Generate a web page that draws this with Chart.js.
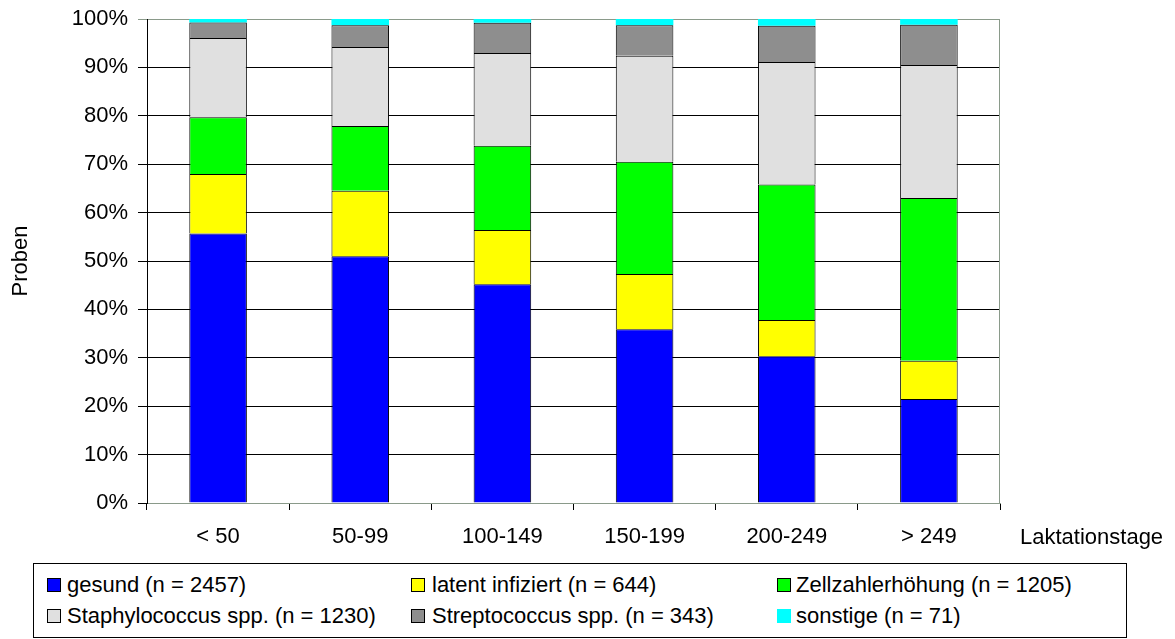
<!DOCTYPE html>
<html lang="de">
<head>
<meta charset="utf-8">
<title>Proben nach Laktationstagen</title>
<script src="https://cdn.jsdelivr.net/npm/chart.js@4/dist/chart.umd.min.js"></script>
<style>
  html, body { margin: 0; padding: 0; background: #fff; }
  body { width: 1175px; height: 639px; position: relative; overflow: hidden;
         font-family: "Liberation Sans", Arial, sans-serif; color: #000; }
  #wrap { position: absolute; left: 0; top: 0; width: 1175px; height: 639px; }
  #legendBox { position: absolute; left: 33px; top: 563px; width: 1094px; height: 75px;
               border: 1px solid #000; box-sizing: border-box; background: #fff; }
  .lg-sw { position: absolute; width: 14px; height: 14px; box-sizing: border-box; }
  .lg-tx { position: absolute; font-size: 22px; line-height: 26px; white-space: nowrap; }
</style>
</head>
<body>
<div id="wrap"><canvas id="chart"></canvas></div>
<div id="legendBox"></div>
<div id="legendItems"></div>
<script>
// Lactation-day classes on the x axis
const categories = ['< 50', '50-99', '100-149', '150-199', '200-249', '> 249'];

// Share of samples per class, in percent (stacked bottom to top)
const gesund = [55.7, 51.0, 45.2, 35.9, 30.3, 21.5];
const latentInfiziert = [12.3, 13.5, 11.2, 11.4, 7.5, 7.9];
const zellzahlerhoehung = [11.7, 13.4, 17.4, 23.2, 28.0, 33.6];
const staphylococcus = [16.4, 16.3, 19.2, 21.9, 25.3, 27.5];
const streptococcus = [3.2, 4.5, 6.2, 6.3, 7.5, 8.3];
const sonstige = [0.7, 1.3, 0.8, 1.3, 1.4, 1.2];

// Legend texts
const seriesLabels = [
  'gesund (n = 2457)',
  'latent infiziert (n = 644)',
  'Zellzahlerhöhung (n = 1205)',
  'Staphylococcus spp. (n = 1230)',
  'Streptococcus spp. (n = 343)',
  'sonstige (n = 71)'
];

const yTicks = [0, 10, 20, 30, 40, 50, 60, 70, 80, 90, 100];
const yTitle = 'Proben';
const xTitle = 'Laktationstage';

const seriesData = [gesund, latentInfiziert, zellzahlerhoehung, staphylococcus, streptococcus, sonstige];
const seriesColors = ['#0000ff', '#ffff00', '#00ff00', '#e0e0e0', '#8e8e8e', '#00ffff'];
const seriesBorders = [1, 1, 1, 1, 1, 0];

const frameColor = '#8a9a8a';
const FONT = '"Liberation Sans", Arial, sans-serif';

Chart.defaults.font.family = FONT;
Chart.defaults.font.size = 22;
Chart.defaults.color = '#000';

const datasets = seriesData.map((d, i) => ({
  label: seriesLabels[i],
  data: d,
  backgroundColor: seriesColors[i],
  borderColor: '#000',
  borderWidth: seriesBorders[i],
  barPercentage: 0.405,
  categoryPercentage: 1.0
}));

// Frame on the right of the plot area, plus the x axis title
const framePlugin = {
  id: 'frame',
  afterDatasetsDraw(chart) {
    const { ctx, chartArea: a } = chart;
    ctx.save();
    ctx.strokeStyle = frameColor;
    ctx.lineWidth = 1;
    ctx.beginPath();
    ctx.moveTo(Math.round(a.right) - 0.5, Math.round(a.top) + 0.5);
    ctx.lineTo(Math.round(a.right) - 0.5, Math.round(a.bottom));
    ctx.stroke();
    ctx.restore();
  },
  afterDraw(chart) {
    const { ctx } = chart;
    ctx.save();
    ctx.font = '22px ' + FONT;
    ctx.fillStyle = '#000';
    ctx.textAlign = 'left';
    ctx.textBaseline = 'middle';
    ctx.fillText(xTitle, 1020, 537.5);
    ctx.restore();
  }
};

new Chart(document.getElementById('chart'), {
  type: 'bar',
  data: { labels: categories, datasets },
  plugins: [framePlugin],
  options: {
    responsive: true,
    maintainAspectRatio: false,
    animation: false,
    layout: { padding: { top: 19, right: 175, bottom: 0, left: 0 } },
    plugins: { legend: { display: false }, tooltip: { enabled: false } },
    scales: {
      x: {
        stacked: true,
        grid: { drawOnChartArea: false, drawTicks: true, tickLength: 7, color: '#000', offset: true },
        border: { color: frameColor, width: 1 },
        ticks: { padding: 14, maxRotation: 0, autoSkip: false, font: { size: 22 } },
        afterFit(scale) { scale.height = 136; scale.paddingLeft = 0; scale.paddingRight = 0; }
      },
      y: {
        stacked: true,
        min: 0,
        max: 100,
        afterBuildTicks(scale) { scale.ticks = yTicks.map(v => ({ value: v })); },
        grid: {
          color: ctx => (ctx.tick && ctx.tick.value === 100 ? frameColor : '#000'),
          tickLength: 9,
          lineWidth: 1
        },
        border: { color: '#000', width: 1 },
        ticks: { padding: 10, font: { size: 22 }, callback: v => v + '%' },
        title: { display: true, text: yTitle, font: { size: 22 }, padding: { top: 8, bottom: 0 } },
        afterFit(scale) { scale.width = 147; scale.paddingTop = 0; scale.paddingBottom = 0; }
      }
    }
  }
});

// Legend: three columns, two rows, built from the dataset definitions
const swX = [47, 411, 777];
const txX = [67, 432, 796];
const rowY = [584.5, 615.5];
const holder = document.getElementById('legendItems');
datasets.forEach((ds, i) => {
  const col = i % 3, row = Math.floor(i / 3);
  const sw = document.createElement('div');
  sw.className = 'lg-sw';
  sw.style.left = swX[col] + 'px';
  sw.style.top = (rowY[row] - 7) + 'px';
  sw.style.background = ds.backgroundColor;
  sw.style.border = ds.borderWidth ? '1px solid #000' : 'none';
  holder.appendChild(sw);
  const tx = document.createElement('div');
  tx.className = 'lg-tx';
  tx.style.left = txX[col] + 'px';
  tx.style.top = (rowY[row] - 12.7) + 'px';
  tx.textContent = ds.label;
  holder.appendChild(tx);
});
</script>
</body>
</html>
